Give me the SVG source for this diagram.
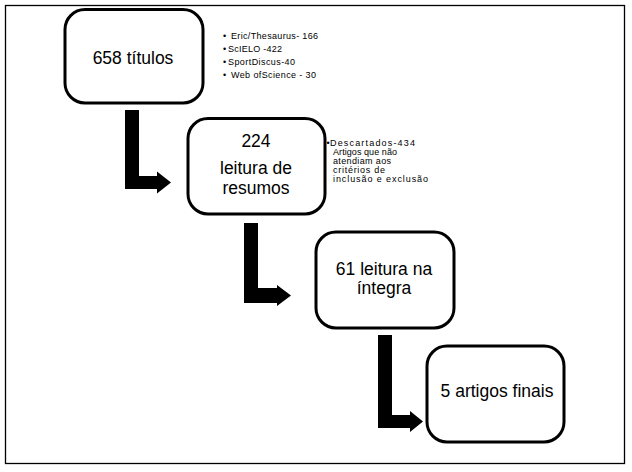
<svg xmlns="http://www.w3.org/2000/svg" width="632" height="472" viewBox="0 0 632 472">
<style>
.frame{fill:none;stroke:#000;stroke-width:1.3}
.box{fill:#fff;stroke:#000;stroke-width:3}
.main{font-family:"Liberation Sans",Arial,sans-serif;font-size:17.5px;fill:#000;text-anchor:middle}
.small{font-family:"Liberation Sans",Arial,sans-serif;font-size:9px;fill:#000}
.arrow{fill:#000;stroke:none}
</style>
<rect width="632" height="472" fill="#fff"/>
<rect class="frame" x="5.5" y="5.5" width="619" height="458"/>
<g id="connectors">
<polygon class="arrow" points="125,110 139,110 139,176 157,176 157,171.5 171,182.5 157,193.5 157,189 125,189"/>
<polygon class="arrow" points="244,223 258,223 258,288 277,288 277,285 291,295.5 277,306 277,303 244,303"/>
<polygon class="arrow" points="378,335 392,335 392,415 410,415 410,411 423,421.5 410,432 410,428 378,428"/>
</g>
<g id="node1">
<rect class="box" x="65" y="9.5" width="138" height="93.5" rx="20"/>
<text class="main" x="133" y="64">658 títulos</text>
</g>
<g id="sources">
<text class="small"><tspan x="223" y="39">•</tspan><tspan x="231" y="39" textLength="87" lengthAdjust="spacing">Eric/Thesaurus- 166</tspan></text>
<text class="small"><tspan x="223" y="52">•</tspan><tspan x="228" y="52" textLength="54" lengthAdjust="spacing">ScIELO -422</tspan></text>
<text class="small"><tspan x="223" y="65">•</tspan><tspan x="228" y="65" textLength="67" lengthAdjust="spacing">SportDiscus-40</tspan></text>
<text class="small"><tspan x="223" y="78">•</tspan><tspan x="231" y="78" textLength="85" lengthAdjust="spacing">Web ofScience - 30</tspan></text>
</g>
<g id="node2">
<rect class="box" x="188" y="118.5" width="137" height="95.5" rx="20"/>
<text class="main" x="256" y="147">224</text>
<text class="main" x="256" y="174">leitura de</text>
<text class="main" x="256" y="194">resumos</text>
</g>
<g id="discarded">
<text class="small"><tspan x="326.5" y="146">•</tspan><tspan x="330" y="146" textLength="85" lengthAdjust="spacing">Descartados-434</tspan></text>
<text class="small" x="333" y="155" textLength="64" lengthAdjust="spacing">Artigos que não</text>
<text class="small" x="333" y="164" textLength="58" lengthAdjust="spacing">atendiam aos</text>
<text class="small" x="333" y="173" textLength="52" lengthAdjust="spacing">critérios de</text>
<text class="small" x="333" y="182" textLength="95" lengthAdjust="spacing">inclusão e exclusão</text>
</g>
<g id="node3">
<rect class="box" x="316" y="232" width="138" height="96" rx="20"/>
<text class="main" x="384" y="275">61 leitura na</text>
<text class="main" x="384" y="294">íntegra</text>
</g>
<g id="node4">
<rect class="box" x="427" y="346" width="137" height="96" rx="20"/>
<text class="main" x="497" y="397">5 artigos finais</text>
</g>
</svg>
